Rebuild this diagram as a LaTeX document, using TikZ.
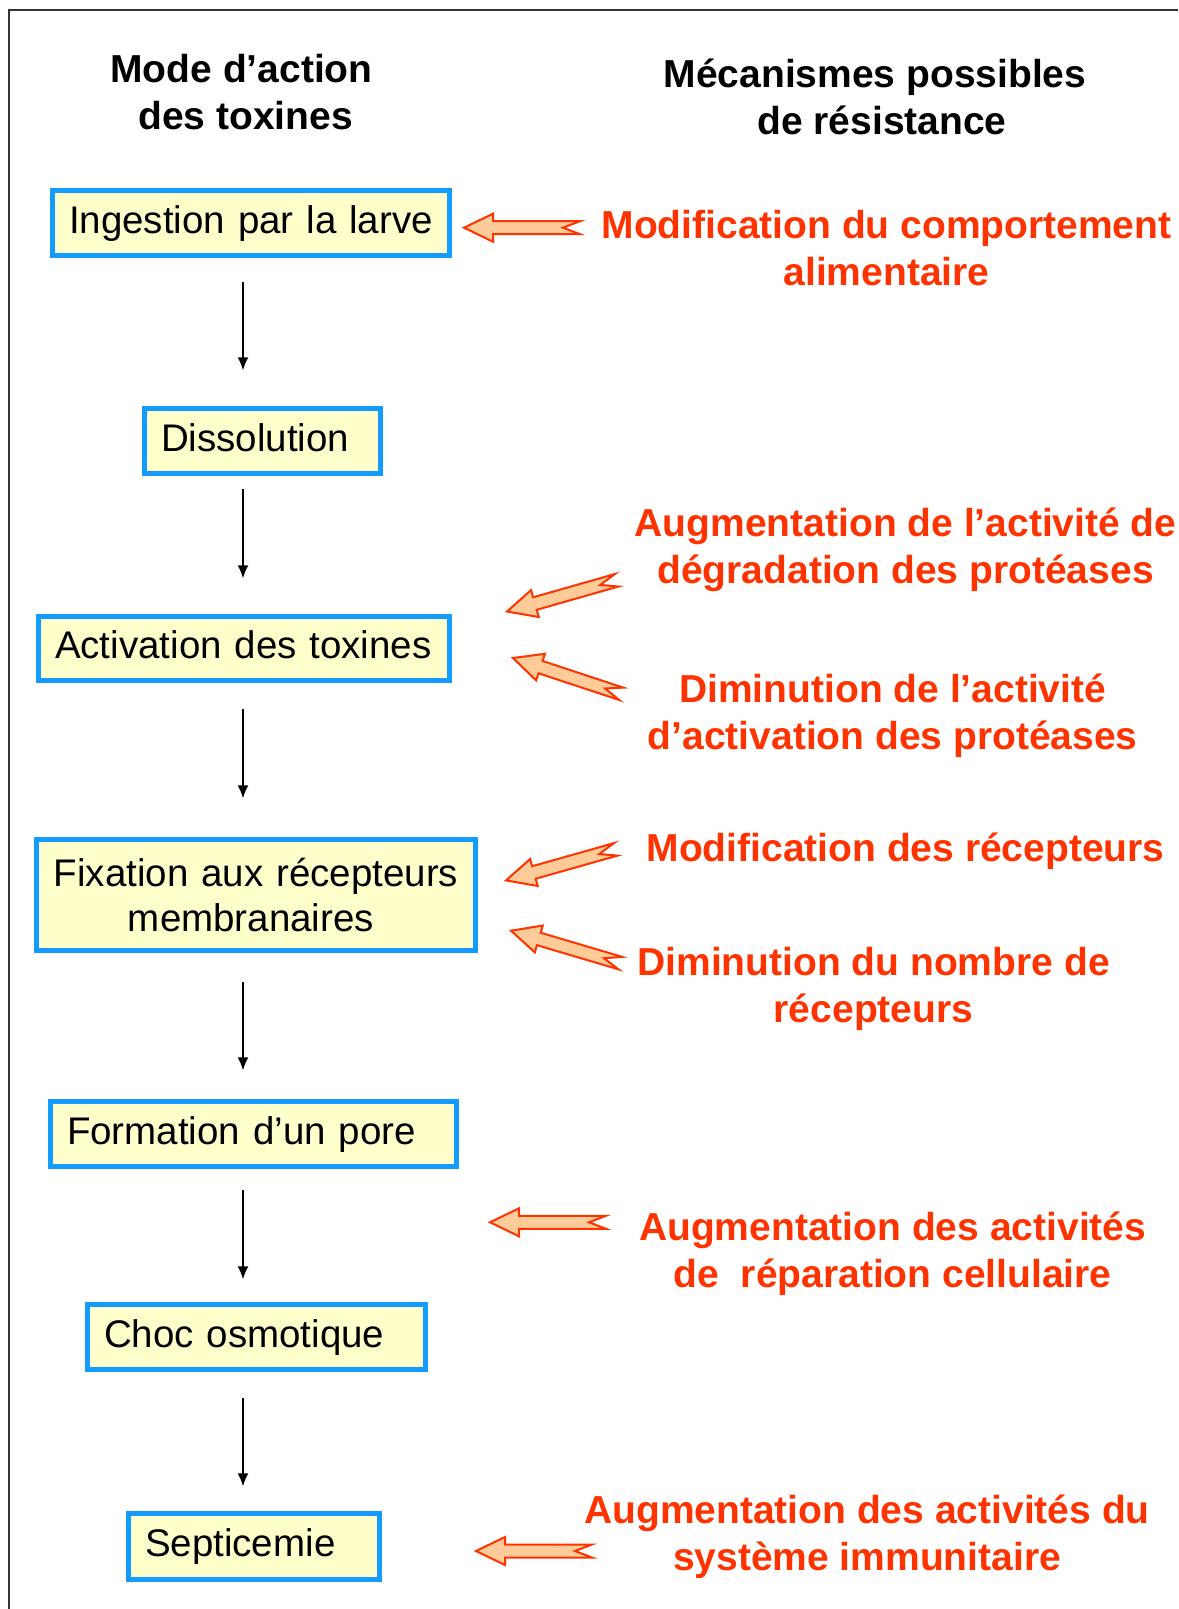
\documentclass[tikz,border=0pt]{standalone}
\usepackage{fontspec}
\setmainfont{Liberation Sans}
\usetikzlibrary{arrows.meta}
\begin{document}
\begin{tikzpicture}[x=1pt,y=1pt]
\definecolor{boxblue}{RGB}{20,155,255}
\definecolor{boxfill}{RGB}{255,255,204}
\definecolor{redtxt}{RGB}{255,51,0}
\definecolor{arrfill}{RGB}{255,204,153}
\tikzset{
  box/.style={draw=boxblue, line width=4.5pt, fill=boxfill, inner xsep=16pt, inner ysep=0pt,
    align=left, font=\fontsize{38.5}{45}\selectfont, text height=28pt, text depth=8pt},
  head/.style={align=center, font=\fontsize{39}{47}\selectfont\bfseries},
  res/.style={align=center, text=redtxt, font=\fontsize{39}{47}\selectfont\bfseries},
  varrow/.style={line width=1.5pt, -{Latex[length=13pt,width=11pt]}},
  barrow/.style={draw=redtxt, fill=arrfill, line width=2pt, line join=miter},
  blockarr/.pic={\draw[barrow] (0,0) -- (29,14) -- (29,6.5) -- (116,6.5) -- (99,0) -- (116,-6.5) -- (29,-6.5) -- (29,-14) -- cycle;},
  diagarr/.pic={\draw[barrow] (0,0) -- (29,14) -- (29,6.5) -- (114,6.5) -- (97,0) -- (114,-6.5) -- (29,-6.5) -- (29,-14) -- cycle;}
}
\useasboundingbox (0,0) rectangle (1178,-1609);
\fill[white] (0,0) rectangle (1178,-1609);
\draw[line width=1.5pt, draw=black!80] (1178,-10) -- (9,-10) -- (9,-1609);

% headers
\node[head] (h1) at (241.5,-92.5) {Mode d’action\\\hspace*{8pt}des toxines};
\node[head] (h2) at (875,-96.5) {Mécanismes possibles\\\hspace*{14pt}de résistance};

% boxes
\node[box, minimum width=397pt, minimum height=65pt, text width=364pt] (ing) at (251,-223) {\mbox{Ingestion par la larve}};
\node[box, minimum width=236pt, minimum height=65pt, text width=203pt] (dis) at (262.5,-441) {\mbox{Dissolution}};
\node[box, minimum width=411pt, minimum height=64pt, text width=378pt] (act) at (244,-648.5) {\mbox{Activation des toxines}};
\node[box, minimum width=439pt, minimum height=111pt, text width=406pt, align=center, text height=, text depth=] (fix) at (256,-895) {\mbox{Fixation aux récepteurs}\\\mbox{membranaires\hspace{10pt}}};
\node[box, minimum width=406pt, minimum height=65pt, text width=373pt] (for) at (253.5,-1134) {\mbox{Formation d’un pore}};
\node[box, minimum width=338pt, minimum height=65pt, text width=305pt] (cho) at (256.5,-1337) {\mbox{Choc osmotique}};
\node[box, minimum width=251pt, minimum height=66pt, text width=218pt] (sep) at (254,-1546.5) {\mbox{Septicemie}};

% vertical arrows
\coordinate (ax) at (243,0);
\draw[varrow, shorten <=24pt, shorten >=36pt] (ing.south -| ax) -- (dis.north -| ax);
\draw[varrow, shorten <=13pt, shorten >=36pt] (dis.south -| ax) -- (act.north -| ax);
\draw[varrow, shorten <=26pt, shorten >=39pt] (act.south -| ax) -- (fix.north -| ax);
\draw[varrow, shorten <=29pt, shorten >=29pt] (fix.south -| ax) -- (for.north -| ax);
\draw[varrow, shorten <=21pt, shorten >=23pt] (for.south -| ax) -- (cho.north -| ax);
\draw[varrow, shorten <=26pt, shorten >=25pt] (cho.south -| ax) -- (sep.north -| ax);

% resistance texts
\node[res] (r1) at (886.5,-248.5) {Modification du comportement\\alimentaire};
\node[res] (r2) at (905.6,-550) {Augmentation de l’activité de\\dégradation des protéases};
\node[res] (r3) at (892.7,-716) {Diminution de l’activité\\d’activation des protéases};
\node[res] (r4) at (905.5,-851.6) {Modification des récepteurs};
\node[res] (r5) at (873.5,-989) {Diminution du nombre de\\récepteurs};
\node[res] (r6) at (892.7,-1253.5) {Augmentation des activités\\de~~réparation cellulaire};
\node[res] (r7) at (867,-1536.5) {Augmentation des activités du\\système immunitaire};

% block arrows
\pic at (464,-227.7) {blockarr};
\pic[rotate=15.9] at (507,-611.5) {diagarr};
\pic[rotate=-18.3] at (513,-658) {diagarr};
\pic[rotate=15.8] at (506,-880.4) {diagarr};
\pic[rotate=-16.5] at (511,-930.7) {diagarr};
\pic at (490,-1222.3) {blockarr};
\pic at (476,-1551) {blockarr};
\end{tikzpicture}
\end{document}
